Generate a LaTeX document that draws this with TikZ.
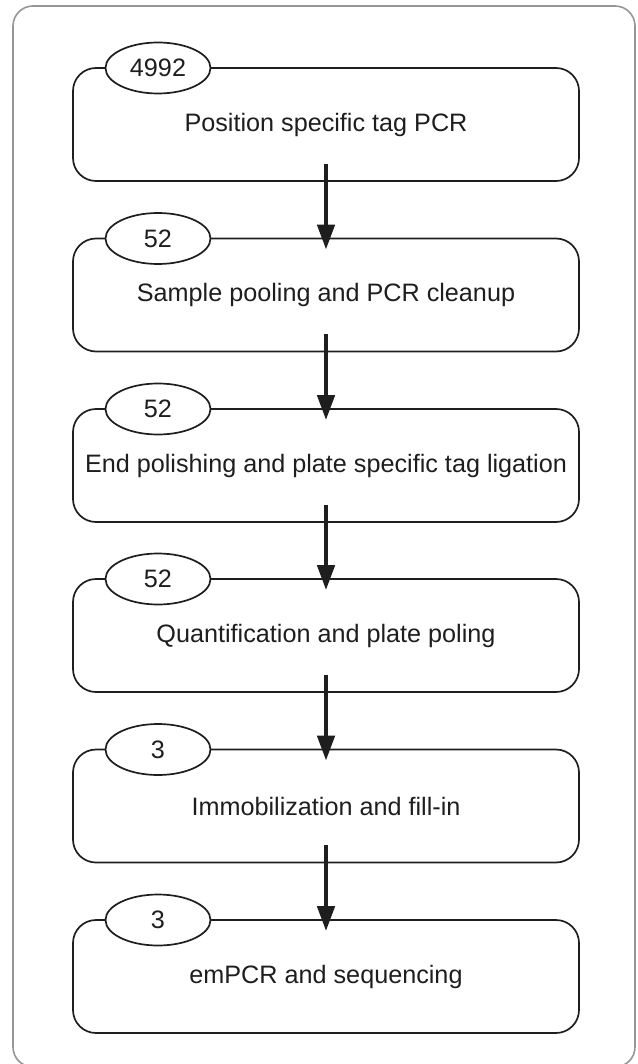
\documentclass[tikz,border=0pt]{standalone}
\usepackage{fontspec}
\setmainfont{Liberation Sans}
\usetikzlibrary{shapes.geometric,arrows.meta}
\definecolor{framegray}{RGB}{150,150,150}
\definecolor{ink}{RGB}{30,30,30}
\tikzset{
  stepbox/.style={draw=ink, line width=1.7pt, rounded corners=23pt,
    minimum width=506pt, minimum height=113pt, inner sep=0pt,
    font=\fontsize{25.2}{29}\selectfont, text=ink},
  countoval/.style={ellipse, draw=ink, fill=white, line width=1.7pt,
    minimum width=105pt, minimum height=51pt, inner sep=0pt,
    font=\fontsize{25.2}{29}\selectfont, text=ink},
  flow/.style={draw=ink, line width=4.5pt,
    -{Triangle[width=17pt,length=25pt]}}
}
\begin{document}
\begin{tikzpicture}[x=1pt,y=-1pt]
  \useasboundingbox (0,0) rectangle (637,1064);
  \begin{scope}
    \clip (0,0) rectangle (637,1064);
    \draw[framegray, line width=1.6pt, rounded corners=20pt]
      (13,6) rectangle (635,1067);
  \end{scope}
  % process steps
  \foreach \i/\top/\num/\txt in {
      1/68/4992/Position specific tag PCR,
      2/238.5/52/Sample pooling and PCR cleanup,
      3/409/52/End polishing and plate specific tag ligation,
      4/579/52/Quantification and plate poling,
      5/749.5/3/Immobilization and fill-in,
      6/920/3/emPCR and sequencing} {
    \node[stepbox] (b\i) at (326,\top+56.5) {\txt};
    \node[countoval] (n\i) at (158,\top) {\num};
  }
  % connectors between steps
  \foreach \a/\b in {1/2,2/3,3/4,4/5,5/6} {
    \draw[flow] ([yshift=18pt]b\a.south) -- ([yshift=-12pt]b\b.north);
  }
\end{tikzpicture}
\end{document}
